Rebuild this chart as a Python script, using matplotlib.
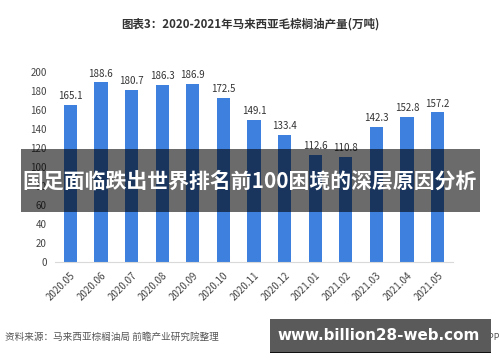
import matplotlib
matplotlib.use("Agg")
import matplotlib.pyplot as plt
from matplotlib.patches import Rectangle

plt.rcParams['font.family'] = ['Noto Sans CJK SC', 'DejaVu Sans']

months = ["2020.05", "2020.06", "2020.07", "2020.08", "2020.09", "2020.10", "2020.11",
          "2020.12", "2021.01", "2021.02", "2021.03", "2021.04", "2021.05"]
production = [165.1, 188.6, 180.7, 186.3, 186.9, 172.5, 149.1, 133.4, 112.6, 110.8, 142.3, 152.8, 157.2]
yticks = [0, 20, 40, 60, 80, 100, 120, 140, 160, 180, 200]

title = "图表3：2020-2021年马来西亚毛棕榈油产量(万吨)"
source = "资料来源：马来西亚棕榈油局 前瞻产业研究院整理"
banner = "国足面临跌出世界排名前100困境的深层原因分析"
domain = "www.billion28-web.com"

W, H = 500, 362
fig = plt.figure(figsize=(W / 100, H / 100), dpi=100)
fig.patch.set_facecolor('white')

ax = fig.add_axes([55 / W, 1 - 262 / H, (453 - 55) / W, (262 - 71.6) / H])
x = list(range(len(months)))
ax.bar(x, production, width=0.43, color='#3d80dd', zorder=2)
for xi, v in zip(x, production):
    ax.text(xi, v + 4, f"{v}", ha='center', va='bottom', fontsize=7, color='#333333')
ax.set_xlim(-0.5, len(months) - 0.5)
ax.set_ylim(0, 200)
ax.set_yticks(yticks)
ax.set_yticklabels([str(t) for t in yticks], fontsize=7, color='#444444')
ax.set_xticks(x)
ax.set_xticklabels(months, rotation=45, ha='right', rotation_mode='anchor', fontsize=7, color='#444444')
ax.tick_params(axis='both', length=0, pad=6)
for s in ['top', 'right', 'left']:
    ax.spines[s].set_visible(False)
ax.spines['bottom'].set_color('#d9d9d9')
ax.set_facecolor('none')

fig.text(250 / W, 1 - 24 / H, title, ha='center', va='center', fontsize=8.3, fontweight='bold', color='#333333')
fig.text(5 / W, 1 - 337 / H, source, ha='left', va='center', fontsize=6.9, color='#555555')
fig.text(500 / W, 1 - 337 / H, "@前瞻经济学人APP", ha='right', va='center', fontsize=6.5, color='#555555')

# banner overlay
fig.patches.append(Rectangle((21 / W, 1 - 212 / H), (480 - 21) / W, (212 - 149) / H,
                             transform=fig.transFigure, facecolor='black', alpha=0.58,
                             edgecolor='none', zorder=5))
fig.text(250 / W, 1 - 181 / H, banner, ha='center', va='center', fontsize=15,
         fontweight='bold', color='white', zorder=6)

# domain box
fig.patches.append(Rectangle((270 / W, 1 - 352 / H), (491 - 270) / W, (352 - 319) / H,
                             transform=fig.transFigure, facecolor='#5a5a5a',
                             edgecolor='none', zorder=5))
fig.patches.append(Rectangle((270 / W, 1 - 353 / H), (491 - 270) / W, 1.5 / H,
                             transform=fig.transFigure, facecolor='#111111',
                             edgecolor='none', zorder=5))
fig.text(379 / W, 1 - 336 / H, domain, ha='center', va='center', fontsize=10.9,
         fontweight='bold', color='white', family=['DejaVu Sans'], zorder=6)

fig.savefig('out.png', dpi=100)
